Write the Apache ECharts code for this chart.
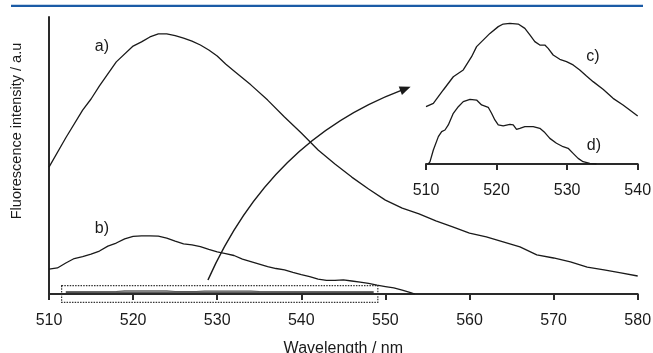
<!DOCTYPE html>
<html><head><meta charset="utf-8">
<script src="https://cdn.jsdelivr.net/npm/echarts@6/dist/echarts.min.js"></script>
<style>html,body{margin:0;padding:0;background:#fff}#c{width:653px;height:353px}</style>
</head><body><div id="c"></div>
<script>
// Main plot: wavelength (nm) vs fluorescence intensity (a.u.)
const curveA = [[510,45.8],[512,56.4],[514,66.4],[515,70.4],[516,75.1],[518,83.8],[520,89.5],[521,91],[522,92.8],[523,93.9],[524,93.9],[525,93.3],[526,92.4],[527,91.3],[528,89.9],[529,88.1],[530,85.9],[531,83],[532,80.5],[534,75.5],[536,70],[538,63.9],[540,58.1],[542,52],[544,46.9],[546,42.2],[548,37.9],[550,33.9],[552,31],[554,28.9],[556,26.4],[558,24.2],[560,22],[562,20.6],[564,18.8],[566,17],[568,14.1],[570,13],[572,11.6],[574,9.7],[576,8.7],[578,7.6],[580,6.5]];
const curveB = [[510,9.0],[511,9.4],[512,11.2],[513,12.8],[514,13.5],[515,14.4],[516,15.5],[517,17.3],[518,18.4],[519,19.9],[520,20.8],[521,21],[522,21],[523,20.9],[524,20.2],[525,19.1],[526,18.1],[527,17.7],[528,17.1],[529,16.1],[530,15.2],[531,14.6],[532,13.9],[533,12.6],[534,11.7],[535,10.8],[536,9.9],[537,9.2],[538,8.7],[539,7.8],[540,7.0],[541,6.3],[542,5.4],[543,4.9],[544,4.9],[545,5.1],[546,4.7],[547,4.3],[548,3.8],[549,3.2],[550,2.7],[551,2.2],[552,1.4],[553,0.5],[553.5,0]];
// c) and d) as they appear (tiny) in the main plot
const curveDsmall = [[512,0.7],[548.6,0.7]];
const curveCsmall = [[512,0.8],[518,0.9],[519,1.2],[524,1.2],[525,0.9],[527.5,0.9],[528.5,1.1],[534,1.1],[535,0.9],[548.6,0.8]];
// Inset: zoom of c) and d)
const curveC = [[510,39.8],[511.04,42.1],[512.45,51.4],[513.87,60.6],[515.28,65.3],[516.46,74.5],[517.17,81.5],[517.88,85],[519.06,90.7],[520.24,95.4],[520.94,97.2],[521.89,97.7],[523.07,97.2],[524.01,94.2],[524.72,89.6],[525.42,85],[526.13,82.6],[526.84,82.6],[527.31,80.3],[528.02,75.7],[528.96,72.7],[529.91,71.1],[530.85,68.8],[531.79,65.3],[532.74,61.1],[533.68,57.2],[535.09,51.9],[536.51,45.6],[537.92,41],[538.87,37.5],[540,33.3]];
const curveD = [[510.33,0],[510.57,1.6],[511.04,9.7],[511.75,19],[512.22,22.5],[512.69,23.6],[513.16,27.1],[513.87,35.2],[514.58,39.8],[515.28,43.3],[516.23,44.9],[517.17,44.4],[517.88,41],[518.82,39.4],[519.29,35.2],[519.76,30.6],[520.24,27.1],[520.94,26.4],[521.89,27.5],[522.36,27.1],[522.83,24.1],[523.3,24.8],[524.01,25.9],[525.19,25.9],[526.13,24.8],[526.84,21.8],[527.55,17.8],[528.49,14.4],[529.43,12],[530.14,10.9],[530.85,7.4],[531.56,3.9],[532.26,1.6],[533.21,0.5],[534.15,0]];
// Annotations (data units)
const mainLabels = [{name:'a)', value:[516.3,89.2]},{name:'b)', value:[516.3,23.5]}];
const insetLabels = [{name:'c)', value:[533.65,74.3]},{name:'d)', value:[533.8,12.5]}];
const zoomBox = [511.5, 549.1, 3.0, -3.0];   // x1, x2, yTop, yBottom
const arrowStart = [528.9, 5.05], arrowCtrl = [536.3, 55.6], arrowEnd = [553, 74.8];

const FONT = 'Liberation Sans, Arial, sans-serif';
const TXT = '#1a1a1a';
const chart = echarts.init(document.getElementById('c'), null, {renderer:'canvas'});
const lineStyle = {color:'#1a1a1a', width:1.3};
const labelSeries = (xi, data) => ({type:'scatter', xAxisIndex:xi, yAxisIndex:xi, data, symbolSize:0, silent:true,
  itemStyle:{opacity:1},
  label:{show:true, position:'inside', formatter:'{b}', fontFamily:FONT, fontSize:16, color:TXT, opacity:1}});
chart.setOption({
  animation:false,
  backgroundColor:'#fff',
  graphic:[{type:'rect', shape:{x:11, y:4.7, width:632, height:2.2}, style:{fill:'#1b5ba6'}}],
  grid:[
    {left:49, right:15.3, top:17, bottom:59, containLabel:false, outerBoundsMode:'none'},
    {left:426, right:15.3, top:20, bottom:189, containLabel:false, outerBoundsMode:'none'}
  ],
  xAxis:[
    {gridIndex:0, type:'value', min:510, max:580, interval:10,
     name:'Wavelength / nm', nameLocation:'middle', nameGap:47,
     nameTextStyle:{fontFamily:FONT, fontSize:16, color:TXT},
     axisLine:{lineStyle:{color:'#2a2a2a', width:2}},
     axisTick:{inside:false, length:6, lineStyle:{color:'#2a2a2a', width:2}},
     axisLabel:{margin:19, fontFamily:FONT, fontSize:16, color:TXT},
     splitLine:{show:false}},
    {gridIndex:1, type:'value', min:510, max:540, interval:10,
     axisLine:{lineStyle:{color:'#2a2a2a', width:2}},
     axisTick:{length:6, lineStyle:{color:'#2a2a2a', width:2}},
     axisLabel:{margin:19, fontFamily:FONT, fontSize:16, color:TXT},
     splitLine:{show:false}}
  ],
  yAxis:[
    {gridIndex:0, type:'value', min:0, max:100,
     name:'Fluorescence intensity / a.u', nameLocation:'middle', nameGap:25,
     nameTextStyle:{fontFamily:FONT, fontSize:14.5, color:TXT, padding:[0,0,0,49]},
     axisLine:{show:true, lineStyle:{color:'#2a2a2a', width:2}},
     axisTick:{show:false}, axisLabel:{show:false}, splitLine:{show:false}},
    {gridIndex:1, type:'value', min:0, max:100, show:false, splitLine:{show:false}}
  ],
  series:[
    {type:'line', xAxisIndex:0, yAxisIndex:0, data:curveA, showSymbol:false, lineStyle, silent:true},
    {type:'line', xAxisIndex:0, yAxisIndex:0, data:curveB, showSymbol:false, lineStyle, silent:true},
    {type:'line', xAxisIndex:0, yAxisIndex:0, data:curveCsmall, showSymbol:false, lineStyle:{color:'#888', width:1.2}, silent:true},
    {type:'line', xAxisIndex:0, yAxisIndex:0, data:curveDsmall, showSymbol:false, lineStyle:{color:'#2a2a2a', width:1.3}, silent:true},
    {type:'line', xAxisIndex:1, yAxisIndex:1, data:curveC, showSymbol:false, lineStyle, silent:true},
    {type:'line', xAxisIndex:1, yAxisIndex:1, data:curveD, showSymbol:false, lineStyle, silent:true},
    labelSeries(0, mainLabels),
    labelSeries(1, insetLabels),
    {type:'custom', xAxisIndex:0, yAxisIndex:0, clip:false, silent:true, data:[zoomBox],
     renderItem:function(p, api){
       const a = api.coord([api.value(0), api.value(2)]);
       const b = api.coord([api.value(1), api.value(3)]);
       return {type:'rect', shape:{x:a[0], y:a[1], width:b[0]-a[0], height:b[1]-a[1]},
               style:{fill:null, stroke:'#333', lineWidth:1.2, lineDash:[1.5,1.2]}};
     }},
    {type:'custom', xAxisIndex:0, yAxisIndex:0, clip:false, silent:true, data:[[arrowEnd[0], arrowEnd[1]]],
     renderItem:function(p, api){
       const s = api.coord(arrowStart), c = api.coord(arrowCtrl), e = api.coord(arrowEnd);
       const dx = e[0]-c[0], dy = e[1]-c[1], L = Math.hypot(dx, dy), ux = dx/L, uy = dy/L;
       const hl = 11, hw = 4.5;
       const bx = e[0]-ux*hl, by = e[1]-uy*hl;
       return {type:'group', children:[
         {type:'bezierCurve', shape:{x1:s[0], y1:s[1], x2:bx+ux*1, y2:by+uy*1, cpx1:c[0], cpy1:c[1]},
          style:{stroke:'#1a1a1a', fill:null, lineWidth:1.5}},
         {type:'polygon', shape:{points:[[e[0], e[1]], [bx-uy*hw, by+ux*hw], [bx+uy*hw, by-ux*hw]]},
          style:{fill:'#1a1a1a'}}
       ]};
     }}
  ]
});
</script></body></html>
